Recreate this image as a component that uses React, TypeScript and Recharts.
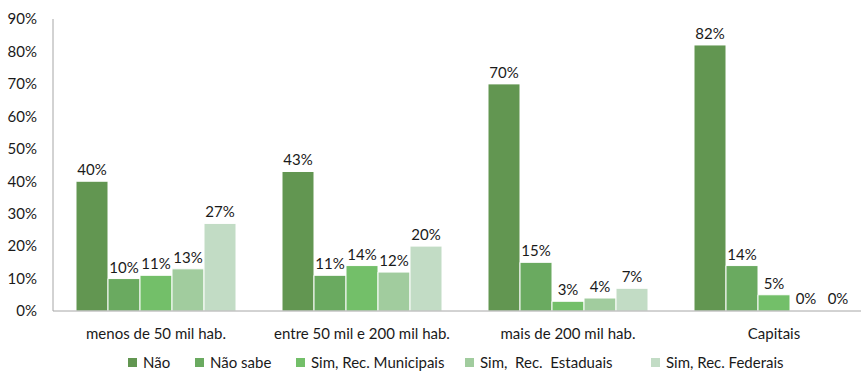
import React from "react";
import { BarChart, Bar, XAxis, YAxis, Legend, Rectangle } from "recharts";

const categories = [
  "menos de 50 mil hab.",
  "entre 50 mil e 200 mil hab.",
  "mais de 200 mil hab.",
  "Capitais",
];
const nao = [40, 43, 70, 82];
const naoSabe = [10, 11, 15, 14];
const simMunicipais = [11, 14, 3, 5];
const simEstaduais = [13, 12, 4, 0];
const simFederais = [27, 20, 7, 0];
const yTicks = [0, 10, 20, 30, 40, 50, 60, 70, 80, 90];

const series = [
  { key: "nao", name: "Não", color: "#629651", values: nao },
  { key: "naoSabe", name: "Não sabe", color: "#6aaa60", values: naoSabe },
  { key: "simMunicipais", name: "Sim, Rec. Municipais", color: "#73bf69", values: simMunicipais },
  { key: "simEstaduais", name: "Sim,  Rec.  Estaduais", color: "#a1cc9e", values: simEstaduais },
  { key: "simFederais", name: "Sim, Rec. Federais", color: "#c2dcc5", values: simFederais },
];

// legend layout (px)
const legendStart = 128;
const legendItemWidths = [67, 101, 169, 186, 160];

const data = categories.map((c, i) => {
  const row: any = { category: c };
  series.forEach((s) => (row[s.key] = s.values[i]));
  return row;
});

const FONT = "Lato, 'Open Sans', sans-serif";
const TEXT = "#1a1a1a";
const FS = 15;

const LegendContent = () => (
  <div
    style={{
      display: "flex",
      height: 18,
      lineHeight: "18px",
      fontFamily: FONT,
      fontSize: FS,
      color: TEXT,
      paddingLeft: legendStart,
    }}
  >
    {series.map((s, i) => (
      <div key={s.key} style={{ display: "flex", alignItems: "center", width: legendItemWidths[i], flex: "none" }}>
        <span style={{ display: "inline-block", width: 9, height: 9, background: s.color, marginRight: 6 }} />
        <span style={{ whiteSpace: "pre" }}>{s.name}</span>
      </div>
    ))}
  </div>
);

const renderLabel = (props: any) => {
  const { x, y, width, value } = props;
  if (x == null || y == null) return null;
  const v = Array.isArray(value) ? value[1] - value[0] : value;
  return (
    <text
      x={Number(x) + Number(width) / 2}
      y={Number(y) - 6}
      textAnchor="middle"
      fill={TEXT}
      fontSize={FS}
      fontFamily={FONT}
    >
      {`${v}%`}
    </text>
  );
};

export default function App() {
  return (
    <div style={{ position: "fixed", left: 0, top: 0, width: 861, height: 371, overflow: "hidden", background: "#fff" }}>
      <BarChart
        width={880}
        height={371}
        data={data}
        margin={{ top: 19, right: 3, left: 0, bottom: 0 }}
        barCategoryGap={23}
        barGap={0}
      >
        <XAxis
          dataKey="category"
          axisLine={{ stroke: "#a6a6a6" }}
          tickLine={false}
          tickMargin={11}
          height={42}
          interval={0}
          tick={{ fill: TEXT, fontSize: FS, fontFamily: FONT }}
        />
        <YAxis
          domain={[0, 90]}
          ticks={yTicks}
          width={53}
          axisLine={{ stroke: "#a6a6a6" }}
          tickLine={false}
          tickMargin={10}
          tickFormatter={(v: number) => `${v}%`}
          tick={{ fill: TEXT, fontSize: FS, fontFamily: FONT }}
          interval={0}
        />
        <Legend verticalAlign="bottom" content={<LegendContent />} />
        {series.map((s) => (
          <Bar
            key={s.key}
            dataKey={s.key}
            name={s.name}
            fill={s.color}
            stroke="#ffffff"
            strokeWidth={1}
            minPointSize={1}
            isAnimationActive={false}
            label={renderLabel}
            shape={(p: any) =>
              s.values[p.index] === 0 ? <g /> : <Rectangle {...p} />
            }
          />
        ))}
      </BarChart>
    </div>
  );
}
